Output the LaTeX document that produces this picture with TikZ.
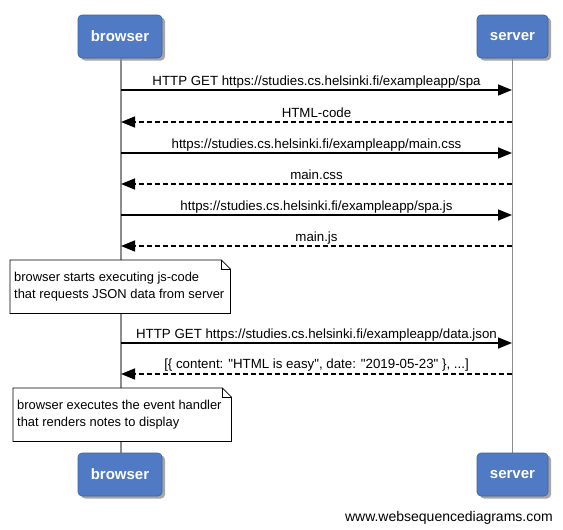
\documentclass[tikz,border=0pt]{standalone}
\usepackage{fontspec}
\setmainfont{Liberation Sans}[Ligatures=TeXOff]
\usetikzlibrary{arrows.meta}
\definecolor{actorblue}{RGB}{80,123,196}
\definecolor{actoredge}{RGB}{60,95,160}
\definecolor{lifegray}{RGB}{140,140,140}
\begin{document}
\begin{tikzpicture}[x=1pt,y=-1pt,
  actor/.style={rounded corners=4pt, fill=actorblue, draw=actoredge, line width=0.6pt,
    text=white, font=\bfseries\fontsize{15}{18}\selectfont, minimum height=43pt, inner sep=0pt},
  actshadow/.style={rounded corners=4pt, fill=black!35},
  life/.style={draw=lifegray, line width=1.5pt},
  msg/.style={line width=1.5pt, -{Triangle[length=14pt,width=11pt]}},
  ret/.style={msg, dash pattern=on 5pt off 3pt},
  lbl/.style={font=\fontsize{13.3}{15}\selectfont, anchor=base, yshift=5pt, inner sep=0pt},
  noteframe/.style={anchor=north west, inner sep=0pt},
  notetext/.style={anchor=west, inner sep=0pt, align=left, font=\fontsize{12.9}{17}\selectfont}
]
\useasboundingbox (0,0) rectangle (563,530);

% actor shadows
\fill[actshadow] (81,17.5) rectangle (165,60.5);
\fill[actshadow] (480,17.5) rectangle (551,60.5);
\fill[actshadow] (81,455.5) rectangle (165,498.5);
\fill[actshadow] (480,455.5) rectangle (551,498.5);

% lifelines
\coordinate (bl1) at (121,58);
\coordinate (bl2) at (121,453);
\coordinate (sl1) at (512.5,58);
\coordinate (sl2) at (512.5,453);
\draw[life] (bl1) -- (bl2);
\draw[life] (sl1) -- (sl2);

% actors
\node[actor, minimum width=84pt] (bt) at (120,36.5) {browser};
\node[actor, minimum width=71pt] (st) at (512.5,36.5) {server};
\node[actor, minimum width=84pt] (bb) at (120,474.5) {browser};
\node[actor, minimum width=71pt] (sb) at (512.5,474.5) {server};

% messages
\coordinate (b1) at (121,90);  \coordinate (s1) at (512,90);
\coordinate (b2) at (121,122); \coordinate (s2) at (512,122);
\coordinate (b3) at (121,153); \coordinate (s3) at (512,153);
\coordinate (b4) at (121,184); \coordinate (s4) at (512,184);
\coordinate (b5) at (121,215); \coordinate (s5) at (512,215);
\coordinate (b6) at (121,246); \coordinate (s6) at (512,246);
\coordinate (b7) at (121,343); \coordinate (s7) at (512,343);
\coordinate (b8) at (121,374); \coordinate (s8) at (512,374);

\draw[msg] (b1) -- node[lbl] {HTTP GET https://studies.cs.helsinki.fi/exampleapp/spa} (s1);
\draw[ret] (s2) -- node[lbl] {HTML-code} (b2);
\draw[msg] (b3) -- node[lbl] {https://studies.cs.helsinki.fi/exampleapp/main.css} (s3);
\draw[ret] (s4) -- node[lbl] {main.css} (b4);
\draw[msg] (b5) -- node[lbl] {https://studies.cs.helsinki.fi/exampleapp/spa.js} (s5);
\draw[ret] (s6) -- node[lbl] {main.js} (b6);
\draw[msg] (b7) -- node[lbl] {HTTP GET https://studies.cs.helsinki.fi/exampleapp/data.json} (s7);
\draw[ret] (s8) -- node[lbl, yshift=1pt] {[\{ content: "HTML is easy", date: "2019-05-23" \}, ...]} (b8);

% notes (frames)
\node[noteframe, minimum width=220pt, minimum height=53pt] (n1) at (10,260) {};
\node[noteframe, minimum width=218pt, minimum height=53pt] (n2) at (13,388) {};
\foreach \n in {n1,n2}{
  \fill[black!30, shift={(3pt,-3pt)}]
    (\n.north west) -- ([xshift=-9pt]\n.north east) -- ([yshift=-9pt]\n.north east)
    -- (\n.south east) -- (\n.south west) -- cycle;
  \filldraw[fill=white, draw=black, line width=0.8pt]
    (\n.north west) -- ([xshift=-9pt]\n.north east) -- ([yshift=-9pt]\n.north east)
    -- (\n.south east) -- (\n.south west) -- cycle;
  \draw[line width=0.8pt] ([xshift=-9pt]\n.north east) -- ([xshift=-9pt,yshift=-9pt]\n.north east)
    -- ([yshift=-9pt]\n.north east);
}
\node[notetext] (t1) at ([xshift=4pt]n1.west)
  {browser starts executing js-code\\that requests JSON data from server};
\node[notetext] (t2) at ([xshift=4pt]n2.west)
  {browser executes the event handler\\that renders notes to display};

% watermark
\node[anchor=base east, inner sep=0pt, font=\fontsize{14}{16}\selectfont] (wm) at (553,521)
  {www.websequencediagrams.com};
\end{tikzpicture}
\end{document}
